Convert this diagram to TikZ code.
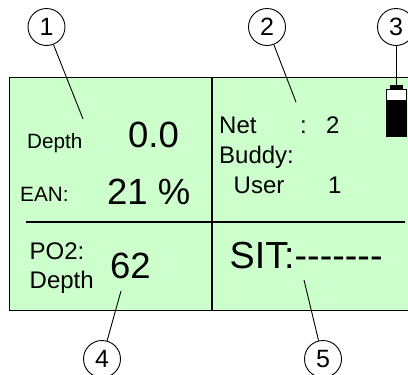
\documentclass[tikz,border=0pt]{standalone}
\usepackage{fontspec}
\setmainfont[Ligatures=NoCommon]{Liberation Sans}
\definecolor{panelgreen}{HTML}{CCFFCC}
\tikzset{
  label21/.style={anchor=base west,inner sep=0pt,font=\fontsize{20.7}{22}\selectfont},
  label24/.style={anchor=base west,inner sep=0pt,font=\fontsize{24}{26}\selectfont},
  value36/.style={anchor=base west,inner sep=0pt,font=\fontsize{36.5}{38}\selectfont},
  callout/.style={draw,circle,minimum size=37pt,inner sep=0pt,line width=0.9pt,font=\fontsize{25}{27}\selectfont},
  leader/.style={line width=0.9pt},
  divider/.style={line width=1.6pt}
}
\begin{document}
\begin{tikzpicture}[x=1pt,y=-1pt]
        \useasboundingbox (0,0) rectangle (408,375);
        \draw[fill=panelgreen,line width=0.7pt] (430,77)--(9,77)--(9,310)--(430,310);
        % dividers
        \coordinate (vtop) at (212,77);
        \coordinate (vbot) at (212,310);
        \coordinate (hleft) at (26,222);
        \coordinate (hright) at (405,222);
        \draw[divider] (vtop)--(vbot);
        \draw[divider] (hleft)--(hright);
        % battery
        \fill (390,85) rectangle (403,89);
        \draw[fill=white,line width=0.8pt] (386,89) rectangle (406,136);
        \fill (386,100) rectangle (406,136);
        % left column
        \node[label21] (depthlabel) at (27,148) {Depth};
        \node[value36] (depthval) at (128,147) {0.0};
        \node[label21] (eanlabel) at (20,201) {EAN:};
        \node[value36] (eanval) at (107,204) {21 \%};
        \node[label24] (po2label) at (29.5,259) {PO2:};
        \node[label24] (po2depth) at (29.5,288) {Depth};
        \node[value36] (po2val) at (110,278) {62};
        % right column
        \node[label24] (netlabel) at (219,133) {Net};
        \node[label24] (netcolon) at (300,133) {:};
        \node[label24] (netval) at (326,133) {2};
        \node[label24] (buddylabel) at (219,163) {Buddy:};
        \node[label24] (userlabel) at (233.5,193) {User};
        \node[label24] (userval) at (328,193) {1};
        \node[value36,font=\fontsize{37.7}{39}\selectfont] (sitlabel) at (229.5,268) {SIT:{-}{-}{-}{-}{-}{-}{-}};
        % callouts
        \node[callout] (c1) at (46.5,27) {1};
        \node[callout] (c2) at (267,27) {2};
        \node[callout] (c3) at (396,27) {3};
        \node[callout] (c4) at (102,359) {4};
        \node[callout] (c5) at (323,359) {5};
        \coordinate (e1) at (83,119);
        \coordinate (e2) at (296,102);
        \coordinate (e3) at (396,85);
        \coordinate (e4) at (121,291);
        \coordinate (e5) at (304,280);
        \draw[leader] (c1)--(e1);
        \draw[leader] (c2)--(e2);
        \draw[leader] (c3)--(e3);
        \draw[leader] (c4)--(e4);
        \draw[leader] (c5)--(e5);
    \end{tikzpicture}
\end{document}
